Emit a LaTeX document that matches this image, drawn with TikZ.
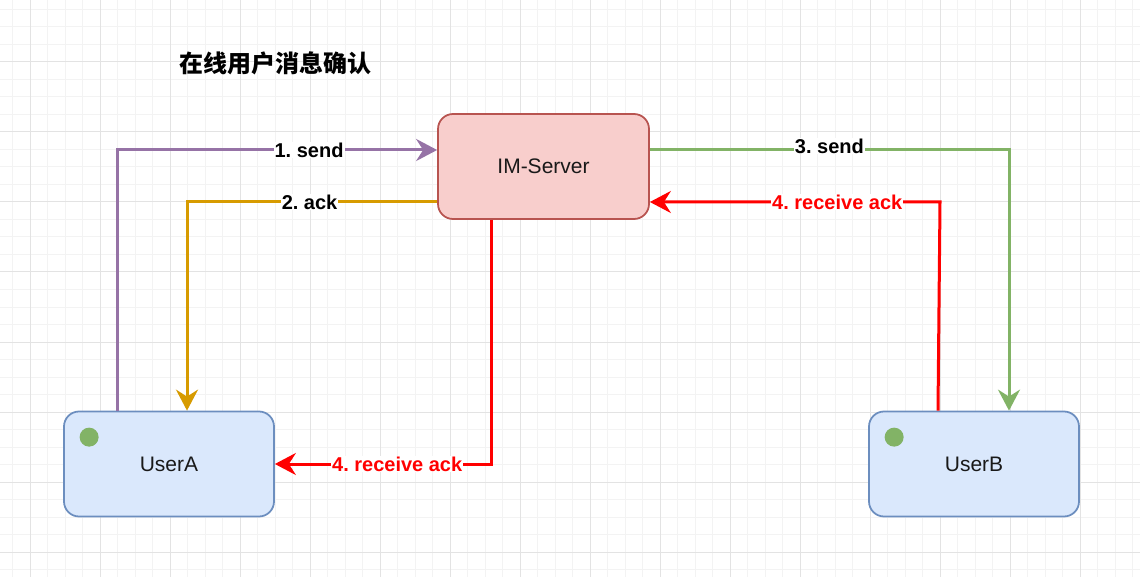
\documentclass[tikz,border=0pt]{standalone}
\usepackage{fontspec}
\setmainfont{Liberation Sans}
\newfontfamily\cjk{Noto Sans CJK SC}
\usetikzlibrary{arrows.meta}
\frenchspacing
\definecolor{gridminor}{HTML}{F3F3F3}
\definecolor{gridmajor}{HTML}{E3E3E3}
\definecolor{srvfill}{HTML}{F8CECC}
\definecolor{srvdraw}{HTML}{B85450}
\definecolor{usrfill}{HTML}{DAE8FC}
\definecolor{usrdraw}{HTML}{6C8EBF}
\definecolor{dotgreen}{HTML}{82B366}
\definecolor{cpurple}{HTML}{9673A6}
\definecolor{corange}{HTML}{D79B00}
\definecolor{cgreen}{HTML}{82B366}
\definecolor{cred}{HTML}{FF0000}
\tikzset{
  box/.style={rectangle, rounded corners=15pt, minimum width=210pt, minimum height=105pt, line width=1.75pt, font=\fontsize{21}{25}\selectfont, text=black!90},
  srvbox/.style={box, fill=srvfill, draw=srvdraw},
  usrbox/.style={box, fill=usrfill, draw=usrdraw},
  dot/.style={circle, fill=dotgreen, minimum size=19pt, inner sep=0pt},
  conn/.style={line width=3pt, -{Stealth[length=21pt,width=22pt,inset=7pt]}},
  lbl/.style={fill=white, inner sep=1pt, font=\bfseries\fontsize{20}{24}\selectfont, text=black},
}
\begin{document}
\begin{tikzpicture}[x=1pt,y=-1pt]
\useasboundingbox (0,0) rectangle (1140,577);
\fill[white] (0,0) rectangle (1140,577);
% grid
\foreach \x in {12.5,30,...,1140} \draw[gridminor, line width=1pt] (\x,0) -- (\x,577);
\foreach \y in {9.5,27,...,577} \draw[gridminor, line width=1pt] (0,\y) -- (1140,\y);
\foreach \x in {30,100,...,1140} \draw[gridmajor, line width=1pt] (\x,0) -- (\x,577);
\foreach \y in {62,132,...,577} \draw[gridmajor, line width=1pt] (0,\y) -- (1140,\y);

% title
\node[font=\cjk\bfseries\fontsize{24}{28}\selectfont] (title) at (275,63) {在线用户消息确认};

% boxes
\node[srvbox, minimum width=211pt] (srv) at (543.5,166.5) {IM-Server};
\node[usrbox] (ua) at (169,464) {UserA};
\node[usrbox] (ub) at (974,464) {UserB};
\node[dot] (uadot) at ([xshift=26pt,yshift=-26.5pt]ua.north west) {};
\node[dot] (ubdot) at ([xshift=26pt,yshift=-26.5pt]ub.north west) {};

% 1. send
\draw[conn, cpurple] ([xshift=-52pt]ua.north) |- node[lbl, pos=0.80] {1. send} ([yshift=16.5pt]srv.west);
% 2. ack
\draw[conn, corange] ([yshift=-35.5pt]srv.west) -| node[lbl, pos=0.255] {2. ack} ([xshift=18pt]ua.north);
% 3. send
\draw[conn, cgreen] ([yshift=16.5pt]srv.east) -| node[lbl, pos=0.25, yshift=4pt] {3. send} ([xshift=35pt]ub.north);
% 4. receive ack (UserB -> server)
\coordinate (rc) at (940,202);
\draw[conn, cred] ([xshift=-36pt]ub.north) -- (rc) -- node[lbl, text=cred, pos=0.354] {4. receive ack} ([yshift=-35.5pt]srv.east);
% 4. receive ack (server -> UserA)
\draw[conn, cred] ([xshift=-52.5pt]srv.south) |- node[lbl, text=cred, pos=0.717] {4. receive ack} (ua.east);
\end{tikzpicture}
\end{document}
